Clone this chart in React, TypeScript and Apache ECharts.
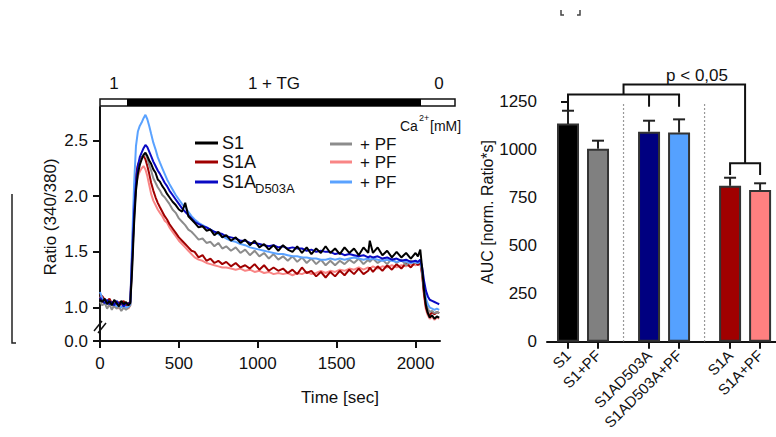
import React, { useEffect, useRef } from "react";
import * as echarts from "echarts";

const FONT = "'Liberation Sans', Arial, Helvetica, sans-serif";

// ---------- Left panel: time course ----------
const TIME = [
  0, 15, 30, 45, 60, 75, 90, 105, 120, 135,
  150, 165, 180, 192, 204, 216, 228, 240, 252, 264,
  276, 288, 300, 312, 324, 338, 352, 366, 380, 395,
  410, 425, 440, 460, 480, 500, 520, 540, 560, 580,
  600, 625, 650, 675, 700, 725, 750, 775, 800, 830,
  860, 890, 920, 950, 980, 1010, 1040, 1070, 1100, 1130,
  1160, 1190, 1220, 1250, 1280, 1310, 1340, 1370, 1400, 1430,
  1460, 1490, 1520, 1550, 1580, 1610, 1640, 1670, 1700, 1710,
  1730, 1760, 1790, 1820, 1850, 1880, 1910, 1940, 1970, 2000,
  2015, 2030, 2042, 2054, 2066, 2078, 2090, 2105, 2120, 2135,
  2150,
];

const S1 = [
  1.07, 1.05, 1.08, 1.03, 1.06, 1.02, 1.07, 1.04, 1.01, 1.06,
  1.03, 1.05, 1.02, 1.04, 1.35, 1.75, 2.05, 2.2, 2.28, 2.33,
  2.37, 2.39, 2.36, 2.32, 2.29, 2.24, 2.21, 2.15, 2.13, 2.09,
  2.06, 2.02, 1.99, 1.95, 1.92, 1.88, 1.86, 1.94, 1.82, 1.79,
  1.76, 1.72, 1.73, 1.69, 1.7, 1.65, 1.68, 1.63, 1.65, 1.6,
  1.63, 1.58, 1.61, 1.56, 1.6, 1.54, 1.57, 1.52, 1.56, 1.51,
  1.56, 1.52, 1.5, 1.55, 1.49, 1.54, 1.48, 1.53, 1.49, 1.55,
  1.49, 1.53, 1.48, 1.54, 1.49, 1.53, 1.47, 1.54, 1.49, 1.6,
  1.49, 1.54, 1.47, 1.51, 1.45, 1.5, 1.45, 1.49, 1.44, 1.49,
  1.46, 1.52, 1.35, 1.15, 1.02, 0.95, 0.91, 0.93, 0.9, 0.92,
  0.91,
];

const S1A_D503A = [
  1.09, 1.06, 1.04, 1.07, 1.03, 1.05, 1.02, 1.06, 1.03, 1.05,
  1.01, 1.04, 1.03, 1.05, 1.45, 1.85, 2.12, 2.27, 2.35, 2.39,
  2.43, 2.46, 2.44, 2.4, 2.36, 2.31, 2.27, 2.23, 2.2, 2.16,
  2.12, 2.09, 2.05, 2.01, 1.97, 1.93, 1.89, 1.86, 1.83, 1.8,
  1.77, 1.75, 1.73, 1.72, 1.7, 1.68, 1.67, 1.66, 1.64, 1.63,
  1.62, 1.6, 1.6, 1.58, 1.58, 1.57, 1.56, 1.55, 1.56, 1.54,
  1.55, 1.53, 1.54, 1.53, 1.53, 1.51, 1.52, 1.5, 1.51, 1.5,
  1.5, 1.48, 1.49, 1.47, 1.48, 1.47, 1.46, 1.47, 1.45, 1.46,
  1.45, 1.46, 1.44, 1.45, 1.43, 1.44, 1.42, 1.43, 1.41, 1.42,
  1.41, 1.43, 1.36, 1.24, 1.15, 1.1, 1.07, 1.06, 1.05, 1.04,
  1.03,
];

const S1A_D503A_PF = [
  1.14, 1.08, 1.05, 1.03, 1.06, 1.02, 1.04, 1.01, 1.03, 1.0,
  1.02, 1.0, 1.01, 1.03, 1.6, 2.1, 2.45, 2.58, 2.63, 2.66,
  2.7, 2.73, 2.69, 2.63, 2.56, 2.48, 2.42, 2.35, 2.3, 2.25,
  2.2, 2.15, 2.11, 2.06, 2.01, 1.97, 1.93, 1.9, 1.86, 1.82,
  1.79, 1.76, 1.74, 1.72, 1.7, 1.68, 1.66, 1.64, 1.62, 1.6,
  1.59, 1.57, 1.56, 1.54, 1.53, 1.52, 1.51, 1.5, 1.49, 1.48,
  1.48, 1.47, 1.46, 1.46, 1.45, 1.45, 1.44, 1.44, 1.43, 1.43,
  1.44, 1.43, 1.44, 1.43, 1.44, 1.45, 1.44, 1.43, 1.44, 1.43,
  1.44, 1.43, 1.42, 1.43, 1.42, 1.41, 1.42, 1.41, 1.4, 1.41,
  1.4, 1.42, 1.33, 1.18, 1.08, 1.03, 1.0, 0.99, 0.98, 0.99,
  0.98,
];

const S1_PF = [
  1.05, 1.02, 1.04, 0.99, 1.03, 0.98, 1.02, 0.99, 1.01, 0.97,
  1.0, 0.98, 1.0, 1.02, 1.4, 1.8, 2.08, 2.22, 2.3, 2.34,
  2.37, 2.38, 2.34, 2.28, 2.23, 2.16, 2.12, 2.08, 2.05, 2.01,
  1.99, 1.96, 1.93, 1.88, 1.85, 1.8, 1.77, 1.74, 1.7, 1.68,
  1.65, 1.61, 1.62, 1.58, 1.59, 1.55, 1.58, 1.53, 1.55, 1.51,
  1.54, 1.49, 1.52, 1.47, 1.51, 1.46, 1.49, 1.44, 1.48, 1.43,
  1.46, 1.42, 1.46, 1.41, 1.45, 1.4, 1.44, 1.39, 1.43, 1.38,
  1.42, 1.38, 1.42, 1.39, 1.43, 1.4, 1.44, 1.39, 1.43, 1.41,
  1.44, 1.4, 1.43, 1.39, 1.44, 1.4, 1.43, 1.38, 1.42, 1.4,
  1.4, 1.43, 1.33, 1.16, 1.05, 0.99, 0.96, 0.97, 0.95, 0.96,
  0.95,
];

const S1A = [
  1.12, 1.1, 1.07, 1.05, 1.08, 1.04, 1.06, 1.02, 1.05, 1.03,
  1.06, 1.02, 1.04, 1.05, 1.5, 1.95, 2.2, 2.28, 2.32, 2.35,
  2.36, 2.33, 2.27, 2.2, 2.12, 2.05, 1.99, 1.94, 1.9, 1.86,
  1.82, 1.79, 1.75, 1.71, 1.67, 1.63, 1.6, 1.57, 1.54, 1.51,
  1.5, 1.45, 1.47, 1.42, 1.44, 1.4, 1.42, 1.39, 1.41, 1.37,
  1.4, 1.36, 1.38, 1.35, 1.39, 1.34, 1.38, 1.33, 1.36, 1.33,
  1.35, 1.31, 1.34, 1.3, 1.36, 1.31, 1.33, 1.28, 1.32, 1.27,
  1.32, 1.28, 1.33, 1.29, 1.34, 1.3, 1.35, 1.3, 1.33, 1.36,
  1.32, 1.37, 1.33, 1.38, 1.34, 1.39, 1.35, 1.4, 1.36, 1.41,
  1.38, 1.41, 1.3, 1.12, 1.0, 0.95, 0.93, 0.96, 0.94, 0.96,
  0.95,
];

const S1A_PF = [
  1.1, 1.06, 1.03, 1.05, 1.01, 1.04, 1.0, 1.03, 0.99, 1.02,
  1.0, 1.03, 0.99, 1.02, 1.45, 1.85, 2.1, 2.18, 2.22, 2.25,
  2.27, 2.24, 2.18, 2.1, 2.02, 1.96, 1.92, 1.88, 1.85, 1.82,
  1.78, 1.76, 1.72, 1.68, 1.64, 1.6, 1.57, 1.54, 1.51, 1.48,
  1.45, 1.43, 1.42, 1.4, 1.39, 1.38, 1.37, 1.36, 1.36, 1.35,
  1.34, 1.35, 1.33, 1.34, 1.32, 1.33, 1.31, 1.32, 1.3, 1.31,
  1.3, 1.31, 1.29, 1.31, 1.3, 1.32, 1.3, 1.31, 1.33, 1.31,
  1.33, 1.32, 1.34, 1.33, 1.35, 1.34, 1.36, 1.34, 1.36, 1.35,
  1.37, 1.35, 1.37, 1.36, 1.38, 1.36, 1.38, 1.37, 1.39, 1.38,
  1.39, 1.4, 1.28, 1.1, 0.98, 0.93, 0.9, 0.92, 0.89, 0.91,
  0.9,
];

// drawing order: bottom first
const TRACE_NAMES = ["S1A+PF", "S1A", "S1+PF", "S1AD503A+PF", "S1AD503A", "S1"];
const TRACE_VALUES = [S1A_PF, S1A, S1_PF, S1A_D503A_PF, S1A_D503A, S1];
const TRACE_COLORS = ["#f98585", "#a00000", "#8c8c8c", "#5aa2ff", "#0a0ac4", "#000000"];

// broken axis: the lowest tick stands for 0.0
const LEFT_Y_TICKS = [0.7, 1.0, 1.5, 2.0, 2.5];
const LEFT_Y_LABELS = ["0.0", "1.0", "1.5", "2.0", "2.5"];
const LEFT_X_TICKS = [0, 500, 1000, 1500, 2000];

// ---------- Right panel: AUC bars ----------
const BAR_CATEGORIES = ["S1", "S1+PF", "S1AD503A", "S1AD503A+PF", "S1A", "S1A+PF"];
const BAR_POSITIONS = [0, 1, 2.7, 3.7, 5.4, 6.4];
const BAR_MEANS = [1137, 1005, 1094, 1089, 812, 790];
const BAR_SEM = [66, 42, 57, 69, 42, 35];
const BAR_COLORS = ["#000000", "#808080", "#000080", "#55a1ff", "#a00000", "#ff8080"];

const BRACKET_A = [[0, 1224], [0, 1288], [3.7, 1288], [3.7, 1224]];
const BRACKET_A_MID = [[2.7, 1288], [2.7, 1224]];
const BRACKET_TOP = [[1.85, 1288], [1.85, 1340], [5.9, 1340], [5.9, 929]];
const BRACKET_B = [[5.4, 868], [5.4, 929], [6.4, 929], [6.4, 868]];
const BRACKETS = [BRACKET_A, BRACKET_A_MID, BRACKET_TOP, BRACKET_B];
const SEPARATORS = [[[1.85, 0], [1.85, 1250]], [[4.55, 0], [4.55, 1250]]];

export default function App() {
  const ref = useRef<HTMLDivElement>(null);

  useEffect(() => {
    const el = ref.current!;
    const chart = echarts.init(el, null, { renderer: "svg" });

    const txt = (x: number, y: number, text: string, fontSize: number, extra: any = {}) => ({
      type: "text",
      x,
      y,
      style: {
        text,
        font: `${fontSize}px ${FONT}`,
        fill: "#111",
        textAlign: "left",
        textVerticalAlign: "middle",
        ...extra,
      },
      silent: true,
    });
    const seg = (x1: number, y1: number, x2: number, y2: number, stroke: string, lineWidth: number) => ({
      type: "line",
      shape: { x1, y1, x2, y2 },
      style: { stroke, lineWidth },
      silent: true,
    });

    const lineSeries = TRACE_NAMES.map((name, k) => ({
      type: "line",
      name,
      xAxisIndex: 0,
      yAxisIndex: 0,
      data: TIME.map((t, i) => [t, TRACE_VALUES[k][i]]),
      showSymbol: false,
      symbol: "none",
      lineStyle: { color: TRACE_COLORS[k], width: 2 },
      itemStyle: { color: TRACE_COLORS[k] },
      z: 2 + k,
    }));

    const option: any = {
      animation: false,
      backgroundColor: "#fff",
      textStyle: { fontFamily: FONT },
      grid: [
        { left: 100, top: 107, width: 340, height: 234 },
        { left: 547, top: 101.7, width: 229, height: 240 },
      ],
      xAxis: [
        {
          type: "value",
          gridIndex: 0,
          min: 0,
          max: 2155,
          splitLine: { show: false },
          axisLine: { show: true, lineStyle: { color: "#111", width: 2 } },
          axisTick: { show: true, length: 7, lineStyle: { color: "#111", width: 2 }, customValues: LEFT_X_TICKS },
          axisLabel: {
            customValues: LEFT_X_TICKS,
            formatter: (v: number) => String(v),
            fontSize: 17,
            color: "#111",
            fontFamily: FONT,
            margin: 14,
          },
        },
        {
          type: "value",
          gridIndex: 1,
          min: -0.7,
          max: 6.93,
          splitLine: { show: false },
          axisLine: { show: true, lineStyle: { color: "#111", width: 2 } },
          axisTick: { show: true, length: 7, lineStyle: { color: "#111", width: 2 }, customValues: BAR_POSITIONS },
          axisLabel: {
            customValues: BAR_POSITIONS,
            formatter: (v: number) => {
              const i = BAR_POSITIONS.findIndex((p) => Math.abs(p - v) < 1e-6);
              return i >= 0 ? BAR_CATEGORIES[i] : "";
            },
            rotate: 45,
            fontSize: 15,
            color: "#111",
            fontFamily: FONT,
            margin: 11,
          },
        },
      ],
      yAxis: [
        {
          type: "value",
          gridIndex: 0,
          min: 0.7,
          max: 2.8,
          splitLine: { show: false },
          axisLine: { show: true, lineStyle: { color: "#111", width: 2 } },
          axisTick: { show: true, length: 7, lineStyle: { color: "#111", width: 2 }, customValues: LEFT_Y_TICKS },
          axisLabel: {
            customValues: LEFT_Y_TICKS,
            formatter: (v: number) => {
              const i = LEFT_Y_TICKS.findIndex((p) => Math.abs(p - v) < 1e-6);
              return i >= 0 ? LEFT_Y_LABELS[i] : "";
            },
            fontSize: 17,
            color: "#111",
            fontFamily: FONT,
            margin: 12,
          },
        },
        {
          type: "value",
          gridIndex: 1,
          min: 0,
          max: 1250,
          interval: 250,
          splitLine: { show: false },
          axisLine: { show: true, lineStyle: { color: "#111", width: 2 } },
          axisTick: { show: true, length: 7, lineStyle: { color: "#111", width: 2 } },
          axisLabel: {
            formatter: (v: number) => String(v),
            fontSize: 17,
            color: "#111",
            fontFamily: FONT,
            margin: 10,
          },
        },
      ],
      series: [
        ...lineSeries,
        {
          type: "bar",
          xAxisIndex: 1,
          yAxisIndex: 1,
          barWidth: 22,
          data: BAR_POSITIONS.map((p, i) => ({
            value: [p, BAR_MEANS[i]],
            itemStyle: { color: BAR_COLORS[i], borderColor: "#333", borderWidth: 2 },
          })),
          z: 3,
        },
        {
          type: "custom",
          xAxisIndex: 1,
          yAxisIndex: 1,
          data: BAR_POSITIONS.map((p, i) => [p, BAR_MEANS[i], BAR_MEANS[i] + BAR_SEM[i]]),
          renderItem: (_params: any, api: any) => {
            const x = api.value(0);
            const a = api.coord([x, api.value(1)]);
            const b = api.coord([x, api.value(2)]);
            return {
              type: "group",
              children: [
                { type: "line", shape: { x1: a[0], y1: a[1], x2: b[0], y2: b[1] }, style: { stroke: "#222", lineWidth: 2 } },
                { type: "line", shape: { x1: b[0] - 6, y1: b[1], x2: b[0] + 6, y2: b[1] }, style: { stroke: "#222", lineWidth: 2 } },
              ],
            };
          },
          z: 5,
        },
        {
          type: "custom",
          xAxisIndex: 1,
          yAxisIndex: 1,
          data: BRACKETS.map((_b, i) => [i, 0]),
          renderItem: (params: any, api: any) => ({
            type: "polyline",
            shape: { points: BRACKETS[params.dataIndex].map((p) => api.coord(p)) },
            style: { stroke: "#111", lineWidth: 2, fill: "none" },
          }),
          z: 6,
        },
        {
          type: "custom",
          xAxisIndex: 1,
          yAxisIndex: 1,
          data: SEPARATORS.map((_s, i) => [i, 0]),
          renderItem: (params: any, api: any) => ({
            type: "polyline",
            shape: { points: SEPARATORS[params.dataIndex].map((p) => api.coord(p)) },
            style: { stroke: "#777", lineWidth: 1.2, fill: "none", lineDash: [1.5, 2.5] },
          }),
          z: 1,
        },
      ],
      graphic: [
        // treatment bar above the trace
        { type: "rect", shape: { x: 100, y: 99, width: 355, height: 7 }, style: { fill: "#fff", stroke: "#111", lineWidth: 1.5 }, silent: true },
        { type: "rect", shape: { x: 127, y: 99, width: 294, height: 7 }, style: { fill: "#000" }, silent: true },
        txt(114, 83, "1", 17, { textAlign: "center" }),
        txt(274, 83, "1 + TG", 17, { textAlign: "center" }),
        txt(439, 83, "0", 17, { textAlign: "center" }),
        txt(400, 126, "Ca", 14),
        txt(419, 118, "2+", 9),
        txt(430, 126, "[mM]", 14),
        // legend
        seg(195, 143, 218, 143, "#000000", 3),
        seg(195, 162, 218, 162, "#a00000", 3),
        seg(195, 182, 218, 182, "#0a0ac4", 3),
        txt(222, 143, "S1", 18),
        txt(222, 162, "S1A", 18),
        txt(222, 182, "S1A", 18),
        txt(255, 188, "D503A", 13),
        seg(330, 144, 352, 144, "#8c8c8c", 3),
        seg(330, 162, 352, 162, "#f98585", 3),
        seg(330, 182, 352, 182, "#5aa2ff", 3),
        txt(360, 144, "+ PF", 17),
        txt(360, 162, "+ PF", 17),
        txt(360, 182, "+ PF", 17),
        // axis names
        txt(340, 397, "Time [sec]", 17, { textAlign: "center" }),
        { ...txt(50, 217, "Ratio (340/380)", 17, { textAlign: "center" }), rotation: Math.PI / 2 },
        { ...txt(487, 212, "AUC [norm. Ratio*s]", 16, { textAlign: "center" }), rotation: Math.PI / 2 },
        txt(697, 75, "p < 0,05", 17, { textAlign: "center" }),
        // axis break marks
        seg(94, 331, 102, 321, "#111", 1.5),
        seg(98, 333, 106, 323, "#111", 1.5),
        // cropped figure fragments
        { type: "polyline", shape: { points: [[12, 194], [12, 343], [16, 343]] }, style: { stroke: "#222", lineWidth: 1.5, fill: "none" }, silent: true },
        { type: "polyline", shape: { points: [[561, 10], [561, 15], [564, 15]] }, style: { stroke: "#444", lineWidth: 1.5, fill: "none" }, silent: true },
        { type: "polyline", shape: { points: [[580, 10], [580, 15], [577, 15]] }, style: { stroke: "#444", lineWidth: 1.5, fill: "none" }, silent: true },
      ],
    };

    chart.setOption(option);
    return () => chart.dispose();
  }, []);

  return (
    <div
      ref={ref}
      style={{ position: "absolute", left: 0, top: 0, width: 776, height: 437, background: "#fff" }}
    />
  );
}
